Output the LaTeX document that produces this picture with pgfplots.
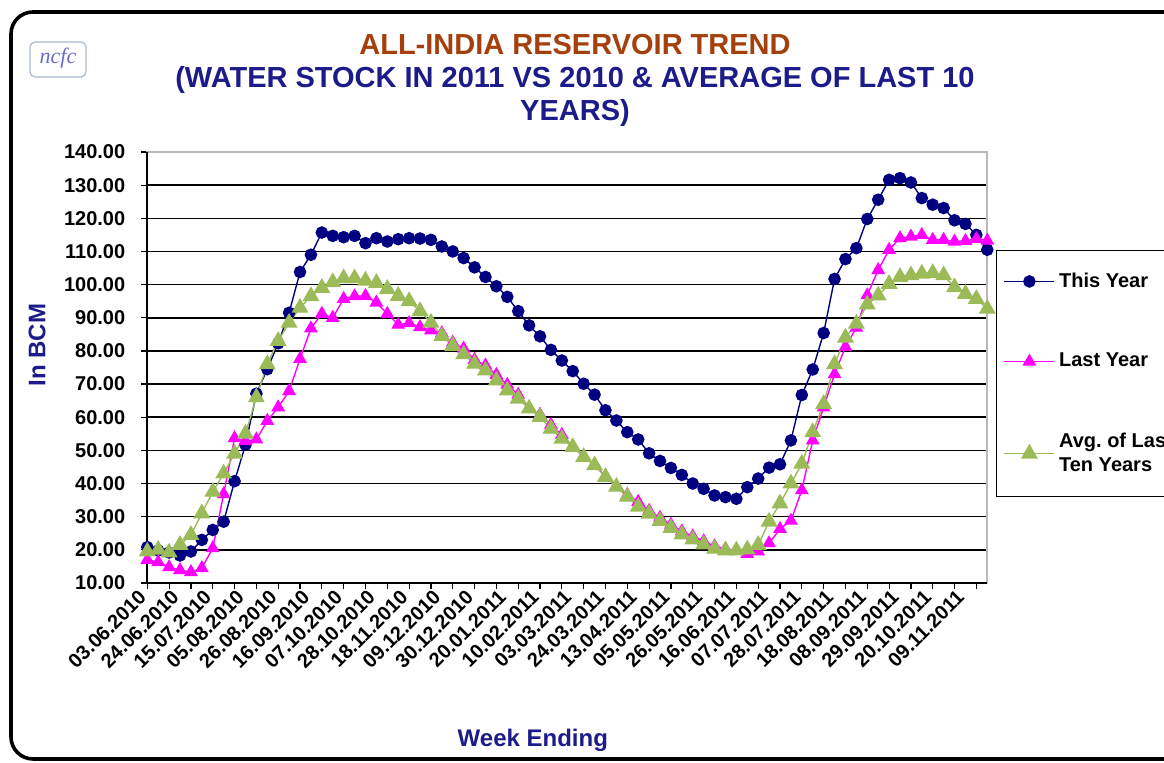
\documentclass[border=0pt]{standalone}
\usepackage{fontspec}
\setmainfont{Liberation Sans}
\newfontfamily\logofont{Liberation Serif}
\usepackage{pgfplots}
\pgfplotsset{compat=1.18}
\usepackage{pgfplotstable}
\definecolor{navyc}{HTML}{000080}
\definecolor{magc}{HTML}{FF00FF}
\definecolor{grnc}{HTML}{9BBB59}
\definecolor{titleorange}{HTML}{A5400C}
\definecolor{titlenavy}{HTML}{1B1B8A}
\definecolor{logoc}{HTML}{6A6ACD}

\pgfplotstableread{
x this last avg
0 20.8 17.0 19.5
1 19.8 16.3 20.0
2 19.2 14.8 19.2
3 18.3 13.9 21.5
4 19.5 13.3 24.5
5 23.0 14.5 31.0
6 26.0 20.5 37.5
7 28.5 36.8 43.0
8 40.7 53.7 49.0
9 51.7 52.8 55.0
10 67.1 53.3 66.0
11 74.5 58.9 76.0
12 82.3 63.0 83.0
13 91.5 67.9 88.5
14 103.8 77.6 93.0
15 109.0 86.8 96.5
16 115.7 91.2 99.0
17 114.7 90.0 100.7
18 114.3 95.7 101.9
19 114.7 96.5 101.9
20 112.5 96.6 101.2
21 114.0 94.6 100.5
22 113.0 91.2 98.7
23 113.7 87.9 96.6
24 114.0 88.4 95.0
25 113.9 87.2 92.0
26 113.5 86.2 88.5
27 111.5 85.4 84.5
28 110.0 82.5 81.5
29 108.0 80.7 79.0
30 105.2 77.3 76.1
31 102.3 75.6 74.1
32 99.5 72.8 71.1
33 96.3 69.8 68.1
34 92.0 66.8 65.6
35 87.7 62.8 62.6
36 84.4 60.8 60.1
37 80.3 57.7 56.5
38 77.1 54.7 53.5
39 73.9 51.2 51.0
40 70.1 48.2 48.0
41 66.8 45.7 45.5
42 62.1 42.2 42.0
43 59.0 39.1 39.0
44 55.5 36.6 36.0
45 53.3 34.5 33.0
46 49.1 31.8 30.9
47 46.8 29.7 28.7
48 44.7 27.6 26.6
49 42.6 25.6 24.6
50 40.0 24.1 23.1
51 38.4 22.6 21.6
52 36.4 21.1 20.3
53 35.9 20.3 19.8
54 35.4 19.8 19.8
55 38.9 18.8 20.1
56 41.5 19.5 21.5
57 44.8 22.0 28.5
58 45.8 26.3 34.0
59 53.0 28.8 40.0
60 66.7 38.0 46.0
61 74.4 53.0 55.5
62 85.4 63.0 64.0
63 101.7 73.0 76.0
64 107.7 81.2 84.0
65 111.0 87.0 88.2
66 119.8 96.8 94.0
67 125.6 104.4 96.7
68 131.6 110.5 100.2
69 132.1 114.0 102.3
70 130.8 114.5 102.8
71 126.1 115.0 103.3
72 124.1 113.5 103.5
73 123.1 113.5 102.8
74 119.4 113.0 99.2
75 118.3 113.2 97.2
76 115.0 113.8 95.7
77 110.5 113.3 92.7
}\datatable

\begin{document}
\begin{tikzpicture}
\path[use as bounding box] (0,0) rectangle (582pt,381.5pt);
\clip (0,0) rectangle (582pt,381.5pt);
\fill[white] (0,0) rectangle (582pt,381.5pt);
\begin{scope}[x=0.5pt,y=-0.5pt,yshift=381.5pt]
  \draw[line width=1.8pt, rounded corners=11pt] (1250,12) -- (11,12) -- (11,759) -- (1250,759);
  \draw[draw={rgb,255:red,170;green,185;blue,205}, line width=0.6pt, rounded corners=2.5pt, fill=white] (30,42) rectangle (86,77);
  \node[font=\logofont\itshape\fontsize{11}{12}\selectfont, text=logoc] at (58,58) {ncfc};
  \node[anchor=base, font=\bfseries\fontsize{14.5}{17}\selectfont, text=titleorange] at (575,55) {ALL-INDIA RESERVOIR TREND};
  \node[anchor=base, font=\bfseries\fontsize{14.5}{17}\selectfont, text=titlenavy] at (575,88) {(WATER STOCK IN 2011 VS 2010 \& AVERAGE OF LAST 10};
  \node[anchor=base, font=\bfseries\fontsize{14.5}{17}\selectfont, text=titlenavy] at (575,121) {YEARS)};
\end{scope}
\begin{axis}[
  at={(73.65pt,90pt)}, anchor=south west,
  scale only axis, width=420pt, height=215.5pt,
  xmin=0, xmax=77, ymin=10, ymax=140,
  clip=false,
  ytick={10,20,...,140},
  xtick={0,2,...,76},
  xticklabels={},
  extra x ticks={0,3,...,75},
  extra x tick labels={03.06.2010,24.06.2010,15.07.2010,05.08.2010,26.08.2010,16.09.2010,07.10.2010,28.10.2010,18.11.2010,09.12.2010,30.12.2010,20.01.2011,10.02.2011,03.03.2011,24.03.2011,13.04.2011,05.05.2011,26.05.2011,16.06.2011,07.07.2011,28.07.2011,18.08.2011,08.09.2011,29.09.2011,20.10.2011,09.11.2011},
  extra x tick style={tick style={draw=none}},
  tick pos=left,
  tick align=outside,
  major tick length=3pt,
  tick style={black, line width=0.6pt},
  ymajorgrids,
  grid style={black, line width=0.75pt},
  axis line style={draw=gray!55, line width=0.8pt},
  /pgf/number format/assume math mode=true,
  yticklabel style={/pgf/number format/.cd, fixed, fixed zerofill, precision=2, /tikz/.cd, xshift=-4.5pt},
  tick label style={font=\bfseries\fontsize{10}{12}\selectfont},
  xticklabel style={rotate=45, anchor=east},
  xlabel={Week Ending},
  xlabel style={at={(axis description cs:0.459,-0.364)}, anchor=center, font=\bfseries\fontsize{12}{14}\selectfont, text=titlenavy},
  ylabel={In BCM},
  ylabel style={at={(axis description cs:-0.1313,0.552)}, anchor=center, font=\bfseries\fontsize{12}{14}\selectfont, text=titlenavy},
  legend style={at={(1.0104,0.7726)}, anchor=north west, draw=black, line width=0.7pt, font=\bfseries\fontsize{10}{12}\selectfont, row sep=27.5pt, inner xsep=3.5pt, inner ysep=9pt, cells={align=left}},
  legend cell align=left,
  legend image code/.code={\draw[mark repeat=2,mark phase=2,#1] plot coordinates {(0pt,0pt) (12.5pt,0pt) (25pt,0pt)};},
]
\draw[black, line width=0.8pt] (rel axis cs:0,1) -- (rel axis cs:0,0) -- (rel axis cs:1,0);
\addplot[navyc, line width=0.7pt, mark=*, mark size=2.8pt, mark options={fill=navyc, draw=navyc}] table[x=x, y=this] {\datatable};
\addlegendentry{This Year}
\addplot[magc, line width=0.7pt, mark=triangle*, mark size=3.3pt, mark options={fill=magc, draw=magc}] table[x=x, y=last] {\datatable};
\addlegendentry{Last Year}
\addplot[grnc, line width=0.7pt, mark=triangle*, mark size=4.2pt, mark options={fill=grnc, draw=grnc}] table[x=x, y=avg] {\datatable};
\addlegendentry{Avg.\ of Last\\Ten Years}
\end{axis}
\end{tikzpicture}
\end{document}
